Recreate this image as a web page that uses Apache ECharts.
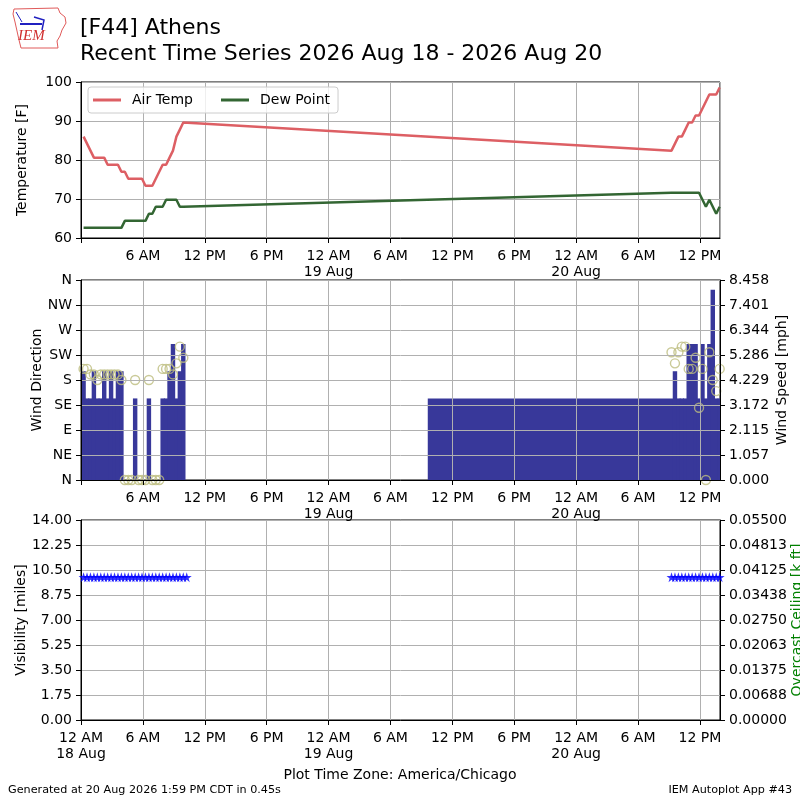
<!DOCTYPE html>
<html lang="en">
<head>
<meta charset="UTF-8">
<title>[F44] Athens</title>
<script src="https://cdn.jsdelivr.net/npm/echarts@6/dist/echarts.min.js"></script>
<style>
  html, body { margin: 0; padding: 0; background: #fff; }
  #main { width: 800px; height: 800px; }
</style>
</head>
<body>
<div id="main"></div>
<script>
var obsTimes = [
  '2026-08-18 00:15', '2026-08-18 00:35', '2026-08-18 00:55', '2026-08-18 01:15', '2026-08-18 01:35',
  '2026-08-18 01:55', '2026-08-18 02:15', '2026-08-18 02:35', '2026-08-18 02:55', '2026-08-18 03:15',
  '2026-08-18 03:35', '2026-08-18 03:55', '2026-08-18 04:15', '2026-08-18 04:35', '2026-08-18 04:55',
  '2026-08-18 05:15', '2026-08-18 05:35', '2026-08-18 05:55', '2026-08-18 06:15', '2026-08-18 06:35',
  '2026-08-18 06:55', '2026-08-18 07:15', '2026-08-18 07:35', '2026-08-18 07:55', '2026-08-18 08:15',
  '2026-08-18 08:35', '2026-08-18 08:55', '2026-08-18 09:15', '2026-08-18 09:35', '2026-08-18 09:55',
  '2026-08-18 10:15',
  '2026-08-20 09:15', '2026-08-20 09:35', '2026-08-20 09:55', '2026-08-20 10:15', '2026-08-20 10:35',
  '2026-08-20 10:55', '2026-08-20 11:15', '2026-08-20 11:35', '2026-08-20 11:55', '2026-08-20 12:15',
  '2026-08-20 12:35', '2026-08-20 12:55', '2026-08-20 13:15', '2026-08-20 13:35', '2026-08-20 13:55'
];
var tempF = [
  86.0, 84.2, 82.4, 80.6, 80.6, 80.6, 80.6, 78.8, 78.8, 78.8,
  78.8, 77.0, 77.0, 75.2, 75.2, 75.2, 75.2, 75.2, 73.4, 73.4,
  73.4, 75.2, 77.0, 78.8, 78.8, 80.6, 82.4, 86.0, 87.8, 89.6,
  null,
  82.4, 84.2, 86.0, 86.0, 87.8, 89.6, 89.6, 91.4, 91.4, 93.2,
  95.0, 96.8, 96.8, 96.8, 98.6
];
var dewF = [
  62.6, 62.6, 62.6, 62.6, 62.6, 62.6, 62.6, 62.6, 62.6, 62.6,
  62.6, 62.6, 64.4, 64.4, 64.4, 64.4, 64.4, 64.4, 64.4, 66.2,
  66.2, 68.0, 68.0, 68.0, 69.8, 69.8, 69.8, 69.8, 68.0, 68.0,
  null,
  71.6, 71.6, 71.6, 71.6, 71.6, 71.6, 71.6, 71.6, 71.6, 69.8,
  68.0, 69.8, 68.0, 66.2, 68.0
];
var windMph = [
  4.6, 3.45, 3.45, 4.6, 3.45, 3.45, 4.6, 3.45, 4.6, 3.45,
  4.6, 4.6, 0, 0, 0, 3.45, 0, 0, 0, 3.45,
  0, 0, 0, 3.45, 3.45, 4.6, 5.75, 3.45, 4.6, 5.75,
  null,
  3.45, 4.6, 3.45, 3.45, 3.45, 5.75, 5.75, 5.75, 3.45, 5.75,
  3.45, 5.75, 8.05, 3.45, 3.45
];
var windDir = [
  200, 200, 190, 190, 180, 190, 190, 190, 190, 190,
  190, 180, 0, 0, 0, 180, 0, 0, 0, 180,
  0, 0, 0, 200, 200, 200, 190, 210, 240, 220,
  null,
  230, 210, 230, 240, 240, 200, 200, 220, 130, 200,
  0, 230, 180, 160, 200
];
var visMiles = [
  10, 10, 10, 10, 10, 10, 10, 10, 10, 10,
  10, 10, 10, 10, 10, 10, 10, 10, 10, 10,
  10, 10, 10, 10, 10, 10, 10, 10, 10, 10,
  10,
  10, 10, 10, 10, 10, 10, 10, 10, 10, 10,
  10, 10, 10, 10, 10
];
// first obs after the gap: its wind bar reaches back to here
var gapObs = '2026-08-20 09:15';
var gapBarStart = '2026-08-19 09:40';

// tick labels
var hourLabels = ['12 AM', '6 AM', '12 PM', '6 PM'];
var dayLabels = ['18 Aug', '19 Aug', '20 Aug'];
var dirLabels = ['N', 'NE', 'E', 'SE', 'S', 'SW', 'W', 'NW', 'N'];
var speedLabels = ['0.000', '1.057', '2.115', '3.172', '4.229', '5.286', '6.344', '7.401', '8.458'];
var visLabels = ['0.00', '1.75', '3.50', '5.25', '7.00', '8.75', '10.50', '12.25', '14.00'];
var ceilLabels = ['0.00000', '0.00688', '0.01375', '0.02063', '0.02750', '0.03438', '0.04125', '0.04813', '0.05500'];

function toMs(s) {
    var p = s.split(/[- :]/);
    return Date.UTC(+p[0], +p[1] - 1, +p[2], +p[3], +p[4]);
}

var FONT = 'DejaVu Sans';
var FS = 14;
var SIX_H = 6 * 3600 * 1000;
var HALF_OBS = 10 * 60 * 1000;
var xMin = toMs('2026-08-18 00:00');
var xMax = toMs('2026-08-20 13:57');

var tempData = [], dewData = [], barData = [], dirData = [], visData = [];
for (var i = 0; i < obsTimes.length; i++) {
    var t = toMs(obsTimes[i]);
    tempData.push([t, tempF[i]]);
    dewData.push([t, dewF[i]]);
    if (windMph[i] != null) {
        var start = obsTimes[i] === gapObs ? toMs(gapBarStart) : t - HALF_OBS;
        barData.push([start, t + HALF_OBS, windMph[i]]);
    }
    if (windDir[i] != null) dirData.push([t, windDir[i]]);
    if (visMiles[i] != null) visData.push([t, visMiles[i]]);
}

function xLabel(showFirst) {
    return function (v) {
        var k = Math.round((v - xMin) / SIX_H);
        if (Math.abs(v - xMin - k * SIX_H) > 1000) return '';
        if (!showFirst && k === 0) return '';
        var d = new Date(xMin + k * SIX_H);
        var h = d.getUTCHours();
        var lab = hourLabels[h / 6];
        if (h === 0) lab += '\n' + dayLabels[d.getUTCDate() - 18];
        return lab;
    };
}

function makeX(gi, showFirst, z) {
    return {
        type: 'value', gridIndex: gi, min: xMin, max: xMax, interval: SIX_H, z: z,
        axisLine: { show: true, onZero: false, lineStyle: { color: '#000', width: 1 } },
        axisTick: { show: true, length: 5, lineStyle: { color: '#000' } },
        axisLabel: { formatter: xLabel(showFirst), color: '#000', fontSize: FS, fontFamily: FONT,
                     margin: 10, lineHeight: 16, showMaxLabel: false, hideOverlap: false },
        splitLine: { show: true, lineStyle: { color: '#b0b0b0', width: 1 } }
    };
}

function makeY(gi, opts) {
    var labels = opts.labels;
    var iv = opts.interval;
    return {
        type: 'value', gridIndex: gi, position: opts.position || 'left',
        min: opts.min, max: opts.max, interval: iv, z: opts.z || 0,
        name: opts.name, nameLocation: 'middle', nameGap: opts.nameGap, nameRotate: 90,
        nameMoveOverlap: false,
        nameTextStyle: { color: opts.nameColor || '#000', fontSize: FS, fontFamily: FONT },
        axisLine: { show: true, lineStyle: { color: '#000', width: 1 } },
        axisTick: { show: true, length: 5, lineStyle: { color: '#000' } },
        axisLabel: {
            color: '#000', fontSize: FS, fontFamily: FONT, margin: 9,
            formatter: labels ? function (v) { return labels[Math.round(v / iv)]; } : null
        },
        splitLine: { show: opts.split !== false, lineStyle: { color: '#b0b0b0', width: 1 } }
    };
}

var starPath = 'path://M50,0 L61,35 L98,35 L68,57 L79,91 L50,70 L21,91 L32,57 L2,35 L39,35 Z';

var myChart = echarts.init(document.getElementById('main'));

var gridBase = { left: 81, right: 80, show: true, borderColor: '#000', borderWidth: 1,
                 backgroundColor: 'transparent', outerBoundsMode: 'none', containLabel: false };

var option = {
    animation: false,
    backgroundColor: '#fff',
    textStyle: { fontFamily: FONT },
    grid: [
        Object.assign({}, gridBase, { top: 82, height: 156 }),
        Object.assign({}, gridBase, { top: 280, height: 200 }),
        Object.assign({}, gridBase, { top: 520, height: 200 })
    ],
    legend: {
        left: 88, top: 87, padding: [6, 8, 6, 5], itemGap: 28, itemWidth: 28, itemHeight: 3,
        icon: 'rect', backgroundColor: 'rgba(255,255,255,0.8)', borderColor: '#cccccc',
        borderWidth: 1, borderRadius: 3,
        textStyle: { fontSize: FS, fontFamily: FONT, color: '#000', padding: [0, 0, 0, 6] },
        data: ['Air Temp', 'Dew Point']
    },
    xAxis: [makeX(0, false, 0), makeX(1, false, 5), makeX(2, true, 0)],
    yAxis: [
        makeY(0, { min: 60, max: 100, interval: 10, name: 'Temperature [F]', nameGap: 52 }),
        makeY(1, { min: 0, max: 360, interval: 45, labels: dirLabels, name: 'Wind Direction', nameGap: 37, z: 5 }),
        makeY(1, { min: 0, max: 8.4584, interval: 1.0573, labels: speedLabels, position: 'right',
                   name: 'Wind Speed [mph]', nameGap: 55, split: false, z: 5 }),
        makeY(2, { min: 0, max: 14, interval: 1.75, labels: visLabels, name: 'Visibility [miles]', nameGap: 53 }),
        makeY(2, { min: 0, max: 0.055, interval: 0.006875, labels: ceilLabels, position: 'right',
                   name: 'Overcast Ceiling [k ft]', nameGap: 70, nameColor: '#008000', split: false })
    ],
    series: [
        {
            name: 'Air Temp', type: 'line', xAxisIndex: 0, yAxisIndex: 0, data: tempData,
            showSymbol: false, symbol: 'none', connectNulls: true, color: '#dd5f64',
            lineStyle: { color: '#dd5f64', width: 2.5 }, z: 3
        },
        {
            name: 'Dew Point', type: 'line', xAxisIndex: 0, yAxisIndex: 0, data: dewData,
            showSymbol: false, symbol: 'none', connectNulls: true, color: '#336633',
            lineStyle: { color: '#336633', width: 2.5 }, z: 3
        },
        {
            name: 'Wind Speed', type: 'custom', xAxisIndex: 1, yAxisIndex: 2, data: barData,
            encode: { x: [0, 1], y: 2 },
            renderItem: function (params, api) {
                if (!(api.value(2) > 0)) return null;
                var s = api.coord([api.value(0), api.value(2)]);
                var e = api.coord([api.value(1), 0]);
                var cs = params.coordSys;
                // widen by 1px so neighbouring bars overlap without seams
                var rect = echarts.graphic.clipRectByRect(
                    { x: s[0] - 0.5, y: s[1], width: e[0] - s[0] + 1, height: e[1] - s[1] },
                    { x: cs.x, y: cs.y, width: cs.width, height: cs.height });
                if (!rect) return null;
                return { type: 'rect', shape: rect, style: { fill: '#38389a' } };
            },
            z: 2
        },
        {
            name: 'Wind Direction', type: 'scatter', xAxisIndex: 1, yAxisIndex: 1, data: dirData,
            symbol: 'circle', symbolSize: 9,
            itemStyle: { color: 'rgba(0,0,0,0)', borderColor: '#bdbd7e', borderWidth: 1.4 }, z: 3
        },
        {
            name: 'Visibility', type: 'scatter', xAxisIndex: 2, yAxisIndex: 3, data: visData,
            symbol: starPath, symbolSize: 10, itemStyle: { color: '#0000ff' }, z: 3
        }
    ],
    graphic: [
        // IEM logo (simplified)
        { type: 'polygon', shape: { points: [[14, 9], [58, 8], [60, 13], [65, 17], [66, 23], [62, 30], [60, 36], [57, 41], [58, 48], [21, 48], [19, 40], [17, 31], [15, 22], [13, 14]] },
          style: { fill: 'none', stroke: '#e05a5a', lineWidth: 1 } },
        { type: 'polyline', shape: { points: [[20, 24], [42, 24]] }, style: { stroke: '#2020c0', lineWidth: 2 } },
        { type: 'polyline', shape: { points: [[16, 12], [22, 22]] }, style: { stroke: '#2020c0', lineWidth: 1 } },
        { type: 'polyline', shape: { points: [[34, 17], [44, 20], [42, 30]] }, style: { stroke: '#2020c0', lineWidth: 1.5 } },
        { type: 'text', left: 18, top: 29, style: { text: 'IEM', fill: '#d03030', font: 'italic 15px "Liberation Serif", serif' } },
        // titles
        { type: 'text', left: 80, top: 17, style: { text: '[F44] Athens', fill: '#000', font: '22px "DejaVu Sans"' } },
        { type: 'text', left: 80, top: 43, style: { text: 'Recent Time Series 2026 Aug 18 - 2026 Aug 20', fill: '#000', font: '22px "DejaVu Sans"' } },
        // footer
        { type: 'text', left: 'center', top: 768, style: { text: 'Plot Time Zone: America/Chicago', fill: '#000', font: '14px "DejaVu Sans"' } },
        { type: 'text', left: 8, top: 785, style: { text: 'Generated at 20 Aug 2026 1:59 PM CDT in 0.45s', fill: '#000', font: '11.2px "DejaVu Sans"' } },
        { type: 'text', right: 8, top: 785, style: { text: 'IEM Autoplot App #43', fill: '#000', font: '11.2px "DejaVu Sans"' } }
    ]
};

myChart.setOption(option);
</script>
</body>
</html>
